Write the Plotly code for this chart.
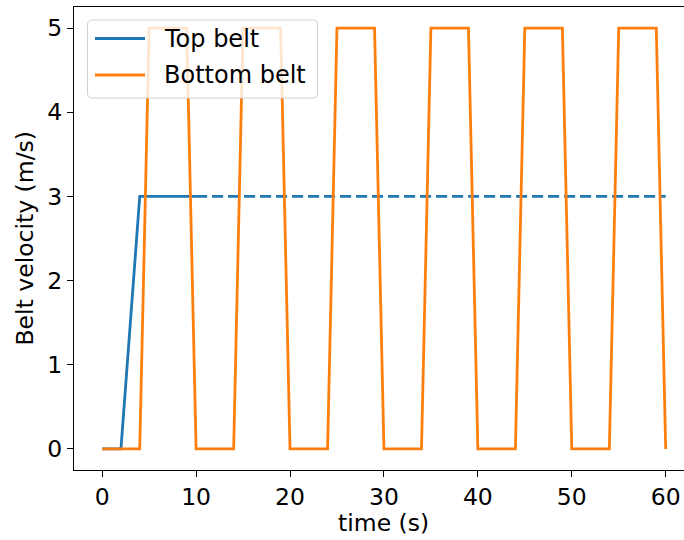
import plotly.graph_objects as go

# Data
top_t = [0, 2, 4, 10]
top_v = [0, 0, 3, 3]
top_dash_t = [10, 60]
top_dash_v = [3, 3]
bottom_t = [0, 4, 5, 9, 10, 14, 15, 19, 20, 24, 25, 29, 30, 34, 35, 39, 40,
            44, 45, 49, 50, 54, 55, 59, 60]
bottom_v = [0, 0, 5, 5, 0, 0, 5, 5, 0, 0, 5, 5, 0, 0, 5, 5, 0,
            0, 5, 5, 0, 0, 5, 5, 0]
x_ticks = [0, 10, 20, 30, 40, 50, 60]
y_ticks = [0, 1, 2, 3, 4, 5]
legend_names = ["Top belt", "Bottom belt"]

BLUE = "#1f77b4"
ORANGE = "#ff7f0e"
FONT = "DejaVu Sans"
FS = 23.5
LW = 2.8

W, H = 684, 540
ML, MR, MT, MB = 74, 0, 7, 70
PW, PH = W - ML - MR, H - MT - MB


def px(x):
    return (x - ML) / PW


def py(y):
    return 1 - (y - MT) / PH


fig = go.Figure()
fig.add_trace(go.Scatter(x=top_t, y=top_v, mode="lines", name=legend_names[0],
                         line=dict(color=BLUE, width=LW), showlegend=False))
fig.add_trace(go.Scatter(x=top_dash_t, y=top_dash_v, mode="lines", showlegend=False,
                         line=dict(color=BLUE, width=LW, dash="11px,5px")))
fig.add_trace(go.Scatter(x=bottom_t, y=bottom_v, mode="lines", name=legend_names[1],
                         line=dict(color=ORANGE, width=LW), showlegend=False))

axis_common = dict(showline=True, linecolor="black", linewidth=1.4, ticks="outside",
                   ticklen=6, tickwidth=1.4, tickcolor="black", showgrid=False,
                   zeroline=False, tickfont=dict(family=FONT, size=FS, color="black"))

# legend box (rounded rectangle, semi-transparent), drawn manually
bx0, bx1, by0, by1 = px(87.5), px(317.5), py(20), py(98)
rx, ry = 5 / PW, 5 / PH
box_path = (f"M {bx0+rx},{by0} L {bx1-rx},{by0} Q {bx1},{by0} {bx1},{by0-ry} "
            f"L {bx1},{by1+ry} Q {bx1},{by1} {bx1-rx},{by1} "
            f"L {bx0+rx},{by1} Q {bx0},{by1} {bx0},{by1+ry} "
            f"L {bx0},{by0-ry} Q {bx0},{by0} {bx0+rx},{by0} Z")
shapes = [
    dict(type="path", xref="paper", yref="paper", path=box_path, layer="above",
         fillcolor="rgba(255,255,255,0.8)", line=dict(color="#d0d0d0", width=1)),
]
annotations = []
row_y = [38.5, 75]
for name, color, ry_px in zip(legend_names, [BLUE, ORANGE], row_y):
    shapes.append(dict(type="line", xref="paper", yref="paper", layer="above",
                       x0=px(95), x1=px(145), y0=py(ry_px), y1=py(ry_px),
                       line=dict(color=color, width=LW)))
    annotations.append(dict(text=name, xref="paper", yref="paper", x=px(162), y=py(ry_px),
                            showarrow=False, xanchor="left", yanchor="middle",
                            font=dict(family=FONT, size=24, color="black")))

annotations += [
    dict(text="time (s)", xref="x", yref="paper", x=30, y=0, yshift=-53,
         showarrow=False, xanchor="center", yanchor="middle",
         font=dict(family=FONT, size=FS, color="black")),
    dict(text="Belt velocity (m/s)", xref="paper", yref="paper", x=0, y=0.5,
         xshift=-50, textangle=-90, showarrow=False, xanchor="center",
         yanchor="middle", font=dict(family=FONT, size=FS, color="black")),
]

fig.update_layout(
    width=W, height=H,
    margin=dict(l=ML, r=MR, t=MT, b=MB),
    paper_bgcolor="white", plot_bgcolor="white",
    font=dict(family=FONT, size=FS, color="black"),
    xaxis=dict(range=[-3, 61.95], tickvals=x_ticks, mirror=True, **axis_common),
    yaxis=dict(range=[-0.25, 5.25], tickvals=y_ticks, mirror=False, **axis_common),
    showlegend=False,
    shapes=shapes,
    annotations=annotations,
)

fig.write_html("out.html")
